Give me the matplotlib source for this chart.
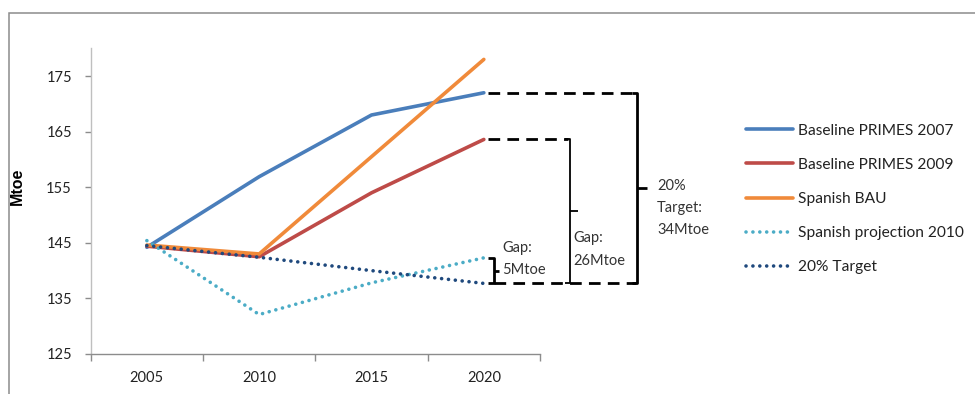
import matplotlib
matplotlib.use("Agg")
import matplotlib.pyplot as plt
from matplotlib.patches import Rectangle

plt.rcParams['font.family'] = ['Lato', 'DejaVu Sans']

# ---- data (Mtoe) ----
years = [2005, 2010, 2015, 2020]
baseline_2007 = [144.2, 156.9, 168.0, 172.0]
baseline_2009 = [144.4, 142.5, 154.0, 163.6]
spanish_bau = [144.6, 143.0, 160.5, 178.0]
spanish_proj_2010 = [145.4, 132.1, 137.8, 142.3]
target_20 = [144.5, 142.4, 140.0, 137.7]

series_names = ["Baseline PRIMES 2007", "Baseline PRIMES 2009", "Spanish BAU",
                "Spanish projection 2010", "20% Target"]
x_tick_labels = ["2005", "2010", "2015", "2020"]
y_ticks = [125, 135, 145, 155, 165, 175]

gap_small = "Gap:\n5Mtoe"
gap_mid = "Gap:\n26Mtoe"
gap_big = "20%\nTarget:\n34Mtoe"

colors = ["#4A7EBB", "#BE4B48", "#F08A3A", "#4BACC6", "#1F497D"]

W, H = 975, 394
fig = plt.figure(figsize=(W / 100, H / 100), dpi=100)

# chart-area frame
fig.add_artist(Rectangle((8.5 / W, -0.1), 1.2, 1 - 12.5 / H + 0.1,
                         transform=fig.transFigure, fill=False,
                         edgecolor="#8C8C8C", linewidth=1.1))

ax = fig.add_axes([90.7 / W, 1 - 354 / H, (540 - 90.7) / W, (354 - 48.3) / H])

solid_kw = dict(linewidth=2.6, solid_capstyle="round")
dot_kw = dict(linewidth=2.6, linestyle=(0, (0.01, 1.9)), dash_capstyle="round")

ax.plot(years, baseline_2007, color=colors[0], label=series_names[0], **solid_kw)
ax.plot(years, baseline_2009, color=colors[1], label=series_names[1], **solid_kw)
ax.plot(years, spanish_bau, color=colors[2], label=series_names[2], **solid_kw)
ax.plot(years, spanish_proj_2010, color=colors[3], label=series_names[3], **dot_kw)
ax.plot(years, target_20, color=colors[4], label=series_names[4], **dot_kw)

ax.set_xlim(2002.5, 2022.5)
ax.set_ylim(125, 180)
ax.set_yticks(y_ticks)
ax.set_yticklabels([str(v) for v in y_ticks])
ax.set_xticks(years)
ax.set_xticklabels(x_tick_labels)
ax.set_xticks([2002.5, 2007.5, 2012.5, 2017.5, 2022.5], minor=True)
ax.tick_params(axis="x", which="major", length=0, pad=12, labelsize=10.5, labelcolor="#222222")
ax.tick_params(axis="x", which="minor", length=5, width=1, color="#8C8C8C", direction="out")
ax.tick_params(axis="y", length=4, width=1, color="#8C8C8C", direction="out", pad=9.5,
               labelsize=10.5, labelcolor="#222222")

for s in ("top", "right"):
    ax.spines[s].set_visible(False)
ax.spines["left"].set_color("#BFBFBF")
ax.spines["bottom"].set_color("#8C8C8C")
ax.spines["left"].set_linewidth(1)
ax.spines["bottom"].set_linewidth(1)

ax.set_ylabel("Mtoe", family=["Liberation Sans"], fontweight="bold", fontsize=11.5)
ax.yaxis.set_label_coords(-0.146, 0.55)

# ---- gap annotations, anchored on the 2020 values ----
top_v = baseline_2007[-1]
mid_v = baseline_2009[-1]
low_v = target_20[-1]
proj_v = spanish_proj_2010[-1]

px_per_year = (484 - 147) / 15.0


def xpx(px):
    return 2005 + (px - 147) / px_per_year


dash_kw = dict(color="black", linewidth=2.0, linestyle=(0, (4.2, 2.6)), clip_on=False)
ax.plot([xpx(488), xpx(636)], [top_v, top_v], **dash_kw)
ax.plot([xpx(488), xpx(568)], [mid_v, mid_v], **dash_kw)
ax.plot([xpx(494), xpx(636)], [low_v, low_v], **dash_kw)


def brace(x_px, y_top, y_bot, hook_px, tip_px, lw):
    xv = xpx(x_px)
    xl = xpx(x_px - hook_px)
    xt = xpx(x_px + tip_px)
    ym = (y_top + y_bot) / 2
    kw = dict(color="black", linewidth=lw, clip_on=False, solid_capstyle="butt")
    ax.plot([xl, xv, xv, xl], [y_top, y_top, y_bot, y_bot], **kw)
    ax.plot([xv, xt], [ym, ym], **kw)


brace(637, top_v, low_v, 5, 10, 2.0)
brace(570, mid_v, low_v, 5, 8, 1.3)
brace(494, proj_v, low_v, 6, 5, 2.0)

txt_kw = dict(fontsize=10.5, color="#333333", va="center", ha="left", linespacing=1.75)
fig.text(502 / W, 1 - 259 / H, gap_small, **txt_kw)
fig.text(573 / W, 1 - 249.5 / H, gap_mid, **txt_kw)
fig.text(657 / W, 1 - 208 / H, gap_big, **txt_kw)

# ---- legend ----
handles, labels = ax.get_legend_handles_labels()
leg = fig.legend(handles, labels, loc="center left",
                 bbox_to_anchor=(746 / W, 1 - 199 / H), bbox_transform=fig.transFigure,
                 frameon=False, fontsize=11.2, handlelength=3.0, handletextpad=0.35,
                 labelspacing=1.3, borderpad=0, borderaxespad=0)
for t in leg.get_texts():
    t.set_color("#222222")

fig.savefig("out.png", dpi=100)
